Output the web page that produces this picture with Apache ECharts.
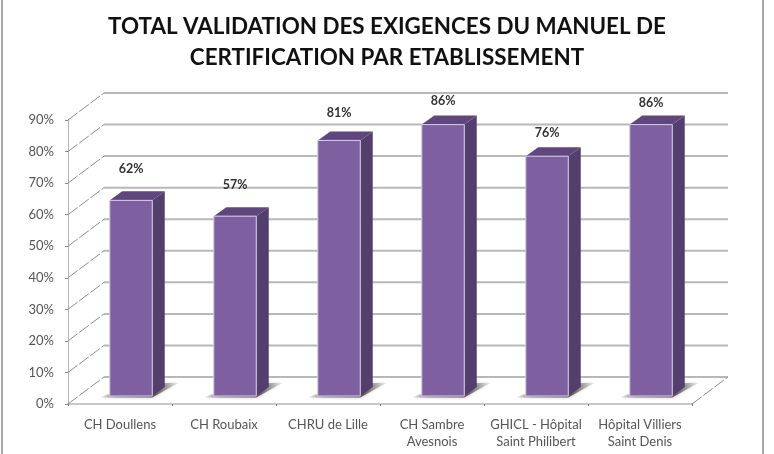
<!DOCTYPE html>
<html>
<head>
<meta charset="utf-8">
<style>
  html, body { margin: 0; padding: 0; background: #fff; }
  /* the source is a soft upscaled image */
  #chart { width: 774px; height: 454px; filter: blur(0.5px); }
</style>
<script src="https://cdn.jsdelivr.net/npm/echarts@6/dist/echarts.min.js"></script>
</head>
<body>
<div id="chart"></div>
<script>
  const categories = ['CH Doullens', 'CH Roubaix', 'CHRU de Lille', 'CH Sambre\nAvesnois', 'GHICL - Hôpital\nSaint Philibert', 'Hôpital Villiers\nSaint Denis'];
  const values = [62, 57, 81, 86, 76, 86];
  const yTicks = [0, 10, 20, 30, 40, 50, 60, 70, 80, 90];

  // fake 3d offsets, in px
  const WALL_DX = 36;
  const WALL_DY = -27;
  const BAR_SHIFT_X = 11;
  const BAR_SHIFT_Y = -8;
  const BAR_WIDTH = 42.5;
  const SIDE_DX = 12.5;
  const SIDE_DY = -9;
  // labels do not sit at a constant height in the source
  const labelLift = [31, 31, 27, 24, 23, 22];

  const renderWall = (params, api) => {
    const band = api.size([1, 0])[0];
    const p = api.coord([0, api.value(1)]);
    const left = p[0] - band / 2;
    const right = left + band * categories.length;
    const y = p[1];
    const children = [
      {
        type: 'polyline',
        shape: { points: [[left + WALL_DX, y + WALL_DY], [right + WALL_DX, y + WALL_DY]] },
        style: { fill: null, stroke: '#b8b8b8', lineWidth: 2 },
      },
      {
        type: 'line',
        shape: { x1: left, y1: y, x2: left + WALL_DX, y2: y + WALL_DY },
        style: { stroke: '#8c8c8c', lineWidth: 1, lineDash: [12, 2] },
      },
    ];
    if (api.value(1) === 0) {
      children.push({
        type: 'line',
        shape: { x1: right, y1: y, x2: right + WALL_DX, y2: y + WALL_DY },
        style: { stroke: '#8c8c8c', lineWidth: 1, lineDash: [12, 2] },
      });
    }
    return { type: 'group', children };
  };

  const renderBar = (params, api) => {
    const i = params.dataIndex;
    const base = api.coord([api.value(0), 0]);
    const top = api.coord([api.value(0), api.value(1)]);
    const x0 = base[0] + BAR_SHIFT_X - BAR_WIDTH / 2;
    const x1 = x0 + BAR_WIDTH;
    const y0 = base[1] + BAR_SHIFT_Y;
    const y1 = top[1] + BAR_SHIFT_Y;
    return {
      type: 'group',
      children: [
        {
          type: 'polygon',
          shape: { points: [[x0 - 10, y0 + 1.5], [x1, y0 + 1.5], [x1 + 26, y0 - 13], [x1 + 12, y0 - 13], [x1, y0 - 2], [x0, y0 - 2]] },
          style: {
            fill: new echarts.graphic.LinearGradient(0, 0, 1, 0, [
              { offset: 0, color: 'rgba(150,150,150,0.15)' },
              { offset: 0.2, color: 'rgba(110,110,110,0.7)' },
              { offset: 0.72, color: 'rgba(80,80,80,0.9)' },
              { offset: 1, color: 'rgba(170,170,170,0.2)' },
            ]),
            shadowBlur: 3,
            shadowColor: 'rgba(110,110,110,0.6)',
          },
        },
        {
          type: 'polygon',
          shape: { points: [[x1, y1], [x1 + SIDE_DX, y1 + SIDE_DY], [x1 + SIDE_DX, y0 + SIDE_DY], [x1, y0]] },
          style: { fill: '#533f6d' },
        },
        {
          type: 'polygon',
          shape: { points: [[x0, y1], [x0 + SIDE_DX, y1 + SIDE_DY], [x1 + SIDE_DX, y1 + SIDE_DY], [x1, y1]] },
          style: { fill: '#5f467c' },
        },
        {
          type: 'rect',
          shape: { x: x0, y: y1, width: BAR_WIDTH, height: y0 - y1 },
          style: { fill: '#7e60a0', stroke: '#d9cde8', lineWidth: 1 },
        },
        {
          type: 'text',
          style: {
            text: values[i] + '%',
            x: (x0 + x1) / 2,
            y: y1 - labelLift[i],
            align: 'center',
            verticalAlign: 'middle',
            fill: '#333',
            font: 'bold 12.5px Lato',
          },
        },
      ],
    };
  };

  const chart = echarts.init(document.getElementById('chart'));
  chart.setOption({
    animation: false,
    backgroundColor: '#fff',
    title: {
      text: 'TOTAL VALIDATION DES EXIGENCES DU MANUEL DE\nCERTIFICATION PAR ETABLISSEMENT',
      left: 382,
      top: 6,
      textAlign: 'center',
      textStyle: { fontFamily: 'Lato', fontWeight: 'bold', fontSize: 22.4, lineHeight: 31, color: '#111' },
    },
    grid: { left: 68, top: 120, width: 624, height: 284 },
    xAxis: {
      type: 'category',
      data: categories,
      axisLine: { lineStyle: { color: '#c8c8c8', width: 2 } },
      axisTick: { show: true, length: 2, lineStyle: { color: '#777' } },
      axisLabel: { color: '#555', fontFamily: 'Lato', fontSize: 13, lineHeight: 17, margin: 12, interval: 0 },
    },
    yAxis: {
      type: 'value',
      min: 0,
      max: 90,
      interval: 10,
      axisLine: { show: true, lineStyle: { color: '#b5b5b5' } },
      axisTick: { show: true, length: 3, lineStyle: { color: '#888' } },
      axisLabel: { color: '#555', fontFamily: 'Lato', fontSize: 13, margin: 14, formatter: '{value}%' },
      splitLine: { show: false },
    },
    series: [
      {
        type: 'custom',
        z: 1,
        silent: true,
        clip: false,
        renderItem: renderWall,
        encode: { x: 0, y: 1 },
        data: yTicks.map((v) => [0, v]),
      },
      {
        type: 'custom',
        z: 3,
        silent: true,
        clip: false,
        renderItem: renderBar,
        encode: { x: 0, y: 1 },
        data: values.map((v, i) => [i, v]),
      },
    ],
    graphic: [
      {
        // only the side edges of the frame are in view
        type: 'rect',
        z: 10,
        shape: { x: 2, y: -6, width: 761, height: 466 },
        style: { fill: null, stroke: '#a8a8a8', lineWidth: 2 },
      },
    ],
  });
</script>
</body>
</html>
